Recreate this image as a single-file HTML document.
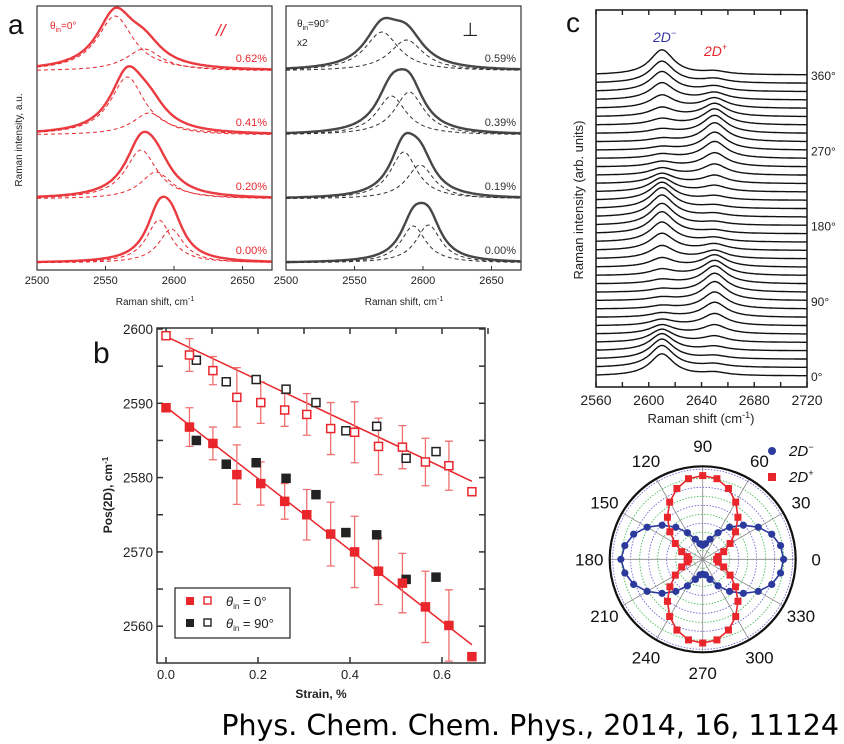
<!DOCTYPE html>
<html><head><meta charset="utf-8"><style>
html,body{margin:0;padding:0;background:#fff}
svg{display:block;font-family:"Liberation Sans",Arial,sans-serif}
</style></head><body>
<svg id="fig" width="844" height="744" viewBox="0 0 844 744">
<rect width="844" height="744" fill="#fff"/>
<g id="pa"></g>
<g id="pb"></g>
<g id="pc"></g>
<g id="pd"></g>
<text x="839" y="735" text-anchor="end" font-family="DejaVu Sans, sans-serif" font-size="28.5" fill="#000">Phys. Chem. Chem. Phys., 2014, 16, 11124</text>
</svg>
<script>
// ---------- Panel a data ----------
const aLeftLabels = ["0.62%","0.41%","0.20%","0.00%"];
const aLeftC1 = [2557,2566,2576,2589];
const aLeftA1 = [55,58,49,43];
const aLeftC2 = [2578,2582,2587,2598];
const aLeftA2 = [22,22,27,34];
const aLeftW = [16,15,14,11];
const aRightLabels = ["0.59%","0.39%","0.19%","0.00%"];
const aRightC1 = [2570,2577,2586,2593];
const aRightA1 = [39,39,47,37];
const aRightC2 = [2588,2590,2598,2604];
const aRightA2 = [31,43,34,38];
const aRightW = [15,13,12,11];
const aTicks = [2500,2550,2600,2650];
// ---------- Panel b data ----------
const bRedStrain = [0,0.051,0.102,0.154,0.206,0.258,0.306,0.358,0.410,0.462,0.514,0.564,0.615,0.665];
const bRedFilled = [2589.4,2586.8,2584.6,2580.4,2579.2,2576.8,2575.0,2572.4,2570.0,2567.4,2565.8,2562.6,2560.1,2555.9];
const bRedFilledErr = [0,2.6,2.2,4,2.9,2.4,3.4,4.3,4.8,4.5,4,4.8,4.8,0];
const bRedOpen = [2599.1,2596.5,2594.4,2590.8,2590.1,2589.1,2588.5,2586.6,2586.1,2584.2,2584.1,2582.1,2581.6,2578.1];
const bRedOpenErr = [0,2.2,1.9,4,2.8,2.2,2.8,3.5,4.1,3.8,2.9,3.2,3.3,0];
const bBlackStrain = [0.066,0.131,0.196,0.261,0.326,0.391,0.458,0.522,0.587];
const bBlackFilled = [2585.0,2581.8,2582.0,2579.9,2577.7,2572.6,2572.3,2566.3,2566.6];
const bBlackOpen = [2595.8,2592.9,2593.2,2591.9,2590.1,2586.3,2586.9,2582.6,2583.5];
const bFitOpen = [2599.0,2579.5];
const bFitFilled = [2589.5,2557.5];
const bFitStrain = [0,0.665];
const bXTicks = [0,0.2,0.4,0.6];
const bYTicks = [2560,2570,2580,2590,2600];
// ---------- Panel c data ----------
const cAngles = [0,10,20,30,40,50,60,70,80,90,100,110,120,130,140,150,160,170,180,190,200,210,220,230,240,250,260,270,280,290,300,310,320,330,340,350,360];
const cAminus = [22,22,20,17,13,9,6,4,3,3,3,4,6,9,13,17,20,22,22,22,21,18,14,10,7,5,4,3,3,4,6,9,13,17,20,22,25];
const cAplus = [3,3,3,4,6,9,12,15,17,19,19,18,15,12,8,6,4,3,3,3,3,4,6,8,11,14,17,18,19,18,16,13,10,7,5,4,3];
const cXTicks = [2560,2600,2640,2680,2720];
const cAngleLabels = [0,90,180,270,360];
// ---------- Polar data ----------
const pAngles = [0,10,20,30,40,50,60,70,80,90,100,110,120,130,140,150,160,170,180,190,200,210,220,230,240,250,260,270,280,290,300,310,320,330,340,350];
const pMinus = [0.87,0.85,0.79,0.69,0.57,0.45,0.33,0.23,0.17,0.15,0.17,0.23,0.33,0.45,0.57,0.69,0.79,0.85,0.88,0.85,0.79,0.69,0.57,0.45,0.33,0.23,0.17,0.16,0.17,0.23,0.33,0.45,0.57,0.69,0.79,0.85];
const pPlus = [0.15,0.17,0.24,0.34,0.46,0.59,0.71,0.81,0.88,0.90,0.88,0.81,0.71,0.59,0.46,0.34,0.24,0.17,0.15,0.17,0.24,0.34,0.46,0.59,0.71,0.81,0.88,0.90,0.88,0.81,0.71,0.59,0.46,0.34,0.24,0.17];
const pLabelAngles = [0,30,60,90,120,150,180,210,240,270,300,330];

const NS="http://www.w3.org/2000/svg";
function mk(parent,tag,attrs,txt){const e=document.createElementNS(NS,tag);for(const k in attrs)e.setAttribute(k,attrs[k]);if(txt!==undefined)e.textContent=txt;parent.appendChild(e);return e;}
const lor=(x,c,a,w)=>a/(1+((x-c)/w)**2);

// ===== Panel a =====
const pa=document.getElementById('pa');
const xA1=v=>37+(v-2500)*1.37;
const xA2=v=>286+(v-2500)*1.37;
const aBase=[71,135,199,263];
function drawA(xf,x0,C1,A1,C2,A2,W,labels,col,side){
  let r=mk(pa,'rect',{x:x0,y:6,width:235,height:264,fill:'none',stroke:'#333','stroke-width':1.2});
  
  
  for(let i=0;i<4;i++){
    let d='',d1='',d2='';
    for(let v=2500;v<=2671;v+=1){
      const s1=lor(v,C1[i],A1[i],W[i]),s2=lor(v,C2[i],A2[i],W[i]);
      const X=xf(v).toFixed(1);
      d+=(v===2500?'M':'L')+X+','+(aBase[i]-s1-s2).toFixed(1);
      d1+=(v===2500?'M':'L')+X+','+(aBase[i]-s1).toFixed(1);
      d2+=(v===2500?'M':'L')+X+','+(aBase[i]-s2).toFixed(1);
    }
    let p=mk(pa,'path',{d:d,fill:'none',stroke:col,'stroke-width':2.4,opacity:0.9});
    
    
    let q1=mk(pa,'path',{d:d1,fill:'none',stroke:col,'stroke-width':1,'stroke-dasharray':'4,3'});
    
    
    let q2=mk(pa,'path',{d:d2,fill:'none',stroke:col,'stroke-width':1,'stroke-dasharray':'4,3'});
    
    
    let t=mk(pa,'text',{x:x0+230,y:aBase[i]-9,'text-anchor':'end','font-size':11,fill:col},labels[i]);
    
    
  }
  aTicks.forEach(v=>{
    let l=mk(pa,'line',{x1:xf(v),x2:xf(v),y1:270,y2:266,stroke:'#333'});
    
    
    let t=mk(pa,'text',{x:xf(v),y:284,'text-anchor':'middle','font-size':11,fill:'#222'},v);
    
    
  });
  let tt=mk(pa,'text',{x:x0+118,y:305,'text-anchor':'middle','font-size':10,fill:'#222'},'Raman shift, cm');
  mk(tt,'tspan',{'font-size':7,dy:-4},'-1');
  
  
}
drawA(xA1,37,aLeftC1,aLeftA1,aLeftC2,aLeftA2,aLeftW,aLeftLabels,'#e8262c','left');
drawA(xA2,286,aRightC1,aRightA1,aRightC2,aRightA2,aRightW,aRightLabels,'#333','right');
(function(){
  let t=mk(pa,'text',{x:8,y:34,'font-size':28,fill:'#111'},'a');
  let y=mk(pa,'text',{x:22,y:140,'text-anchor':'middle','font-size':10,fill:'#222',transform:'rotate(-90 22 140)'},'Raman intensity, a.u.');
  let l1=mk(pa,'text',{x:50,y:29,'font-size':10,fill:'#e8262c'},'θ');mk(l1,'tspan',{'font-size':7,dy:3},'in');mk(l1,'tspan',{dy:-3},'=0°');
  let l2=mk(pa,'text',{x:216,y:36,'font-size':17,fill:'#e8262c','font-style':'italic'},'//');
  let l3=mk(pa,'text',{x:297,y:27,'font-size':10,fill:'#222'},'θ');mk(l3,'tspan',{'font-size':7,dy:3},'in');mk(l3,'tspan',{dy:-3},'=90°');
  let l4=mk(pa,'text',{x:297,y:46,'font-size':10,fill:'#222'},'x2');
  let l5=mk(pa,'text',{x:462,y:36,'font-size':19,fill:'#222'},'⊥');
})();

// ===== Panel b =====
const pb=document.getElementById('pb');
const xB=s=>166+s*460;
const yB=p=>329+(2600-p)*7.43;
(function(){
  let f=mk(pb,'rect',{x:157,y:328,width:328,height:335,fill:'none',stroke:'#333','stroke-width':1.5});
  for(let s=0;s<=0.7;s+=0.1){const X=xB(s);
    let a=mk(pb,'line',{x1:X,x2:X,y1:328,y2:334,stroke:'#333','stroke-width':1.5});}
  bXTicks.forEach(s=>{const X=xB(s);
    let a=mk(pb,'line',{x1:X,x2:X,y1:663,y2:657,stroke:'#333','stroke-width':1.5});
    let t=mk(pb,'text',{x:X,y:679,'text-anchor':'middle','font-size':13,fill:'#222'},s.toFixed(1));});
  for(let p=2560;p<=2600;p+=5){const Y=yB(p);
    let a=mk(pb,'line',{x1:157,x2:163,y1:Y,y2:Y,stroke:'#333','stroke-width':1.5});
    let b=mk(pb,'line',{x1:485,x2:479,y1:Y,y2:Y,stroke:'#333','stroke-width':1.5});}
  bYTicks.forEach(p=>{let t=mk(pb,'text',{x:153,y:yB(p)+5,'text-anchor':'end','font-size':13.5,fill:'#222'},p);});
  let bl=mk(pb,'text',{x:93,y:363,'font-size':30,fill:'#111'},'b');
  let yt=mk(pb,'text',{x:112,y:495,'text-anchor':'middle','font-size':12,'font-weight':'bold',fill:'#222',transform:'rotate(-90 112 495)'},'Pos(2D), cm');mk(yt,'tspan',{'font-size':8,dy:-4},'-1');
  let xt=mk(pb,'text',{x:321,y:698,'text-anchor':'middle','font-size':12,'font-weight':'bold',fill:'#222'},'Strain, %');
  let f1=mk(pb,'line',{x1:xB(bFitStrain[0]),y1:yB(bFitOpen[0]),x2:xB(bFitStrain[1]),y2:yB(bFitOpen[1]),stroke:'#e8262c','stroke-width':1.5});
  let f2=mk(pb,'line',{x1:xB(bFitStrain[0]),y1:yB(bFitFilled[0]),x2:xB(bFitStrain[1]),y2:yB(bFitFilled[1]),stroke:'#e8262c','stroke-width':1.5});
  function err(s,p,e){if(!e)return;const X=xB(s),y1=yB(p+e),y2=yB(p-e);
    let g=mk(pb,'path',{d:`M${X},${y1}V${y2}M${X-4},${y1}H${X+4}M${X-4},${y2}H${X+4}`,stroke:'#f07070','stroke-width':1.3,fill:'none'});
    
    }
  bRedStrain.forEach((s,i)=>{err(s,bRedOpen[i],bRedOpenErr[i]);err(s,bRedFilled[i],bRedFilledErr[i]);});
  function sq(s,p,col,filled,name){const X=xB(s),Y=yB(p);
    let r=mk(pb,'rect',{x:X-4,y:Y-4,width:8,height:8,fill:filled?col:'#fff',stroke:col,'stroke-width':1.5});
    
    }
  bBlackStrain.forEach((s,i)=>{sq(s,bBlackOpen[i],'#222',false,'point-90-open');sq(s,bBlackFilled[i],'#222',true,'point-90-filled');});
  bRedStrain.forEach((s,i)=>{sq(s,bRedOpen[i],'#e8262c',false,'point-0-open');sq(s,bRedFilled[i],'#e8262c',true,'point-0-filled');});
  let lg=mk(pb,'g',{});
  mk(lg,'rect',{x:175,y:588,width:115,height:50,fill:'#fff',stroke:'#333','stroke-width':1.3});
  mk(lg,'rect',{x:186,y:597,width:8,height:8,fill:'#e8262c'});
  mk(lg,'rect',{x:204,y:597,width:7,height:7,fill:'#fff',stroke:'#e8262c','stroke-width':1.4});
  mk(lg,'rect',{x:186,y:619,width:8,height:8,fill:'#222'});
  mk(lg,'rect',{x:204,y:619,width:7,height:7,fill:'#fff',stroke:'#222','stroke-width':1.4});
  let e1=mk(lg,'text',{x:226,y:606,'font-size':13,fill:'#222'},'');mk(e1,'tspan',{'font-style':'italic'},'θ');mk(e1,'tspan',{'font-size':8,dy:3},'in');mk(e1,'tspan',{dy:-3},' = 0°');
  let e2=mk(lg,'text',{x:226,y:628,'font-size':13,fill:'#222'},'');mk(e2,'tspan',{'font-style':'italic'},'θ');mk(e2,'tspan',{'font-size':8,dy:3},'in');mk(e2,'tspan',{dy:-3},' = 90°');
})();

// ===== Panel c =====
const pc=document.getElementById('pc');
const xC=v=>596+(v-2560)*1.319;
const yCbase=a=>376-a*0.836;
(function(){
  cAngles.forEach((a,i)=>{let d='';const B=yCbase(a);
    for(let v=2560;v<=2720;v+=1){const Y=B-lor(v,2610,cAminus[i],11)-lor(v,2650,cAplus[i],11);d+=(v===2560?'M':'L')+xC(v).toFixed(1)+','+Y.toFixed(1);}
    let p=mk(pc,'path',{d:d,fill:'none',stroke:'#111','stroke-width':1.4});
    
    });
  let f=mk(pc,'rect',{x:596,y:10,width:211,height:377,fill:'none',stroke:'#222','stroke-width':1.6});
  for(let v=2560;v<=2720;v+=20){const X=xC(v);
    let a=mk(pc,'line',{x1:X,x2:X,y1:387,y2:382,stroke:'#222','stroke-width':1.4});
    let b=mk(pc,'line',{x1:X,x2:X,y1:10,y2:15,stroke:'#222','stroke-width':1.4});}
  cXTicks.forEach(v=>{let t=mk(pc,'text',{x:xC(v),y:405,'text-anchor':'middle','font-size':14,fill:'#222'},v);});
  cAngleLabels.forEach(a=>{let t=mk(pc,'text',{x:811,y:yCbase(a)+5,'font-size':12,fill:'#222'},a+'°');});
  let xt=mk(pc,'text',{x:701,y:423,'text-anchor':'middle','font-size':13,fill:'#222'},'Raman shift (cm');mk(xt,'tspan',{'font-size':9,dy:-5},'-1');mk(xt,'tspan',{dy:5},')');
  let yt=mk(pc,'text',{x:583,y:200,'text-anchor':'middle','font-size':13,fill:'#222',transform:'rotate(-90 583 200)'},'Raman intensity (arb. units)');
  let cl=mk(pc,'text',{x:566,y:32,'font-size':28,fill:'#111'},'c');
  let m=mk(pc,'text',{x:653,y:42,'font-size':14,fill:'#3a3aa8','font-style':'italic'},'2D');mk(m,'tspan',{'font-size':9,dy:-6},'−');
  let p=mk(pc,'text',{x:704,y:56,'font-size':14,fill:'#e8262c','font-style':'italic'},'2D');mk(p,'tspan',{'font-size':9,dy:-6},'+');
})();

// ===== Polar =====
const pd=document.getElementById('pd');
const CX=702.7,CY=559.3,R=93;
const px=(ang,r)=>CX+r*R*Math.cos(ang*Math.PI/180);
const py=(ang,r)=>CY-r*R*Math.sin(ang*Math.PI/180);
(function(){
  for(let k=1;k<=10;k++){let c=mk(pd,'circle',{cx:CX,cy:CY,r:k*9,fill:'none',stroke:k%2?'#39b54a':'#5a5ad0','stroke-width':0.8,'stroke-dasharray':'1.5,1.5'});}
  for(let a=0;a<360;a+=30){let l=mk(pd,'line',{x1:CX,y1:CY,x2:px(a,1),y2:py(a,1),stroke:'#888','stroke-width':0.8});}
  let oc=mk(pd,'circle',{cx:CX,cy:CY,r:R,fill:'none',stroke:'#111','stroke-width':2.2});
  pLabelAngles.forEach(a=>{let t=mk(pd,'text',{x:px(a,1.22),y:py(a,1.22)+6,'text-anchor':'middle','font-size':17,fill:'#111'},a);});
  function curve(vals,col,name){let d='';pAngles.forEach((a,i)=>{d+=(i?'L':'M')+px(a,vals[i]).toFixed(1)+','+py(a,vals[i]).toFixed(1);});d+='Z';
    let p=mk(pd,'path',{d:d,fill:'none',stroke:col,'stroke-width':1.6});}
  curve(pMinus,'#2b3a9c','fit-2d-minus');curve(pPlus,'#e8262c','fit-2d-plus');
  pAngles.forEach((a,i)=>{let c=mk(pd,'circle',{cx:px(a,pMinus[i]),cy:py(a,pMinus[i]),r:3.6,fill:'#2b3a9c'});});
  pAngles.forEach((a,i)=>{const X=px(a,pPlus[i]),Y=py(a,pPlus[i]);let r=mk(pd,'rect',{x:X-3.5,y:Y-3.5,width:7,height:7,fill:'#e8262c'});});
  let lg=mk(pd,'g',{});
  mk(lg,'circle',{cx:772,cy:451,r:4,fill:'#2b3a9c'});
  let t1=mk(lg,'text',{x:789,y:456,'font-size':15,'font-style':'italic',fill:'#111'},'2D');mk(t1,'tspan',{'font-size':9,dy:-6},'−');
  mk(lg,'rect',{x:768,y:473,width:8,height:8,fill:'#e8262c'});
  let t2=mk(lg,'text',{x:789,y:482,'font-size':15,'font-style':'italic',fill:'#111'},'2D');mk(t2,'tspan',{'font-size':9,dy:-6},'+');
})();
</script>
</body></html>
